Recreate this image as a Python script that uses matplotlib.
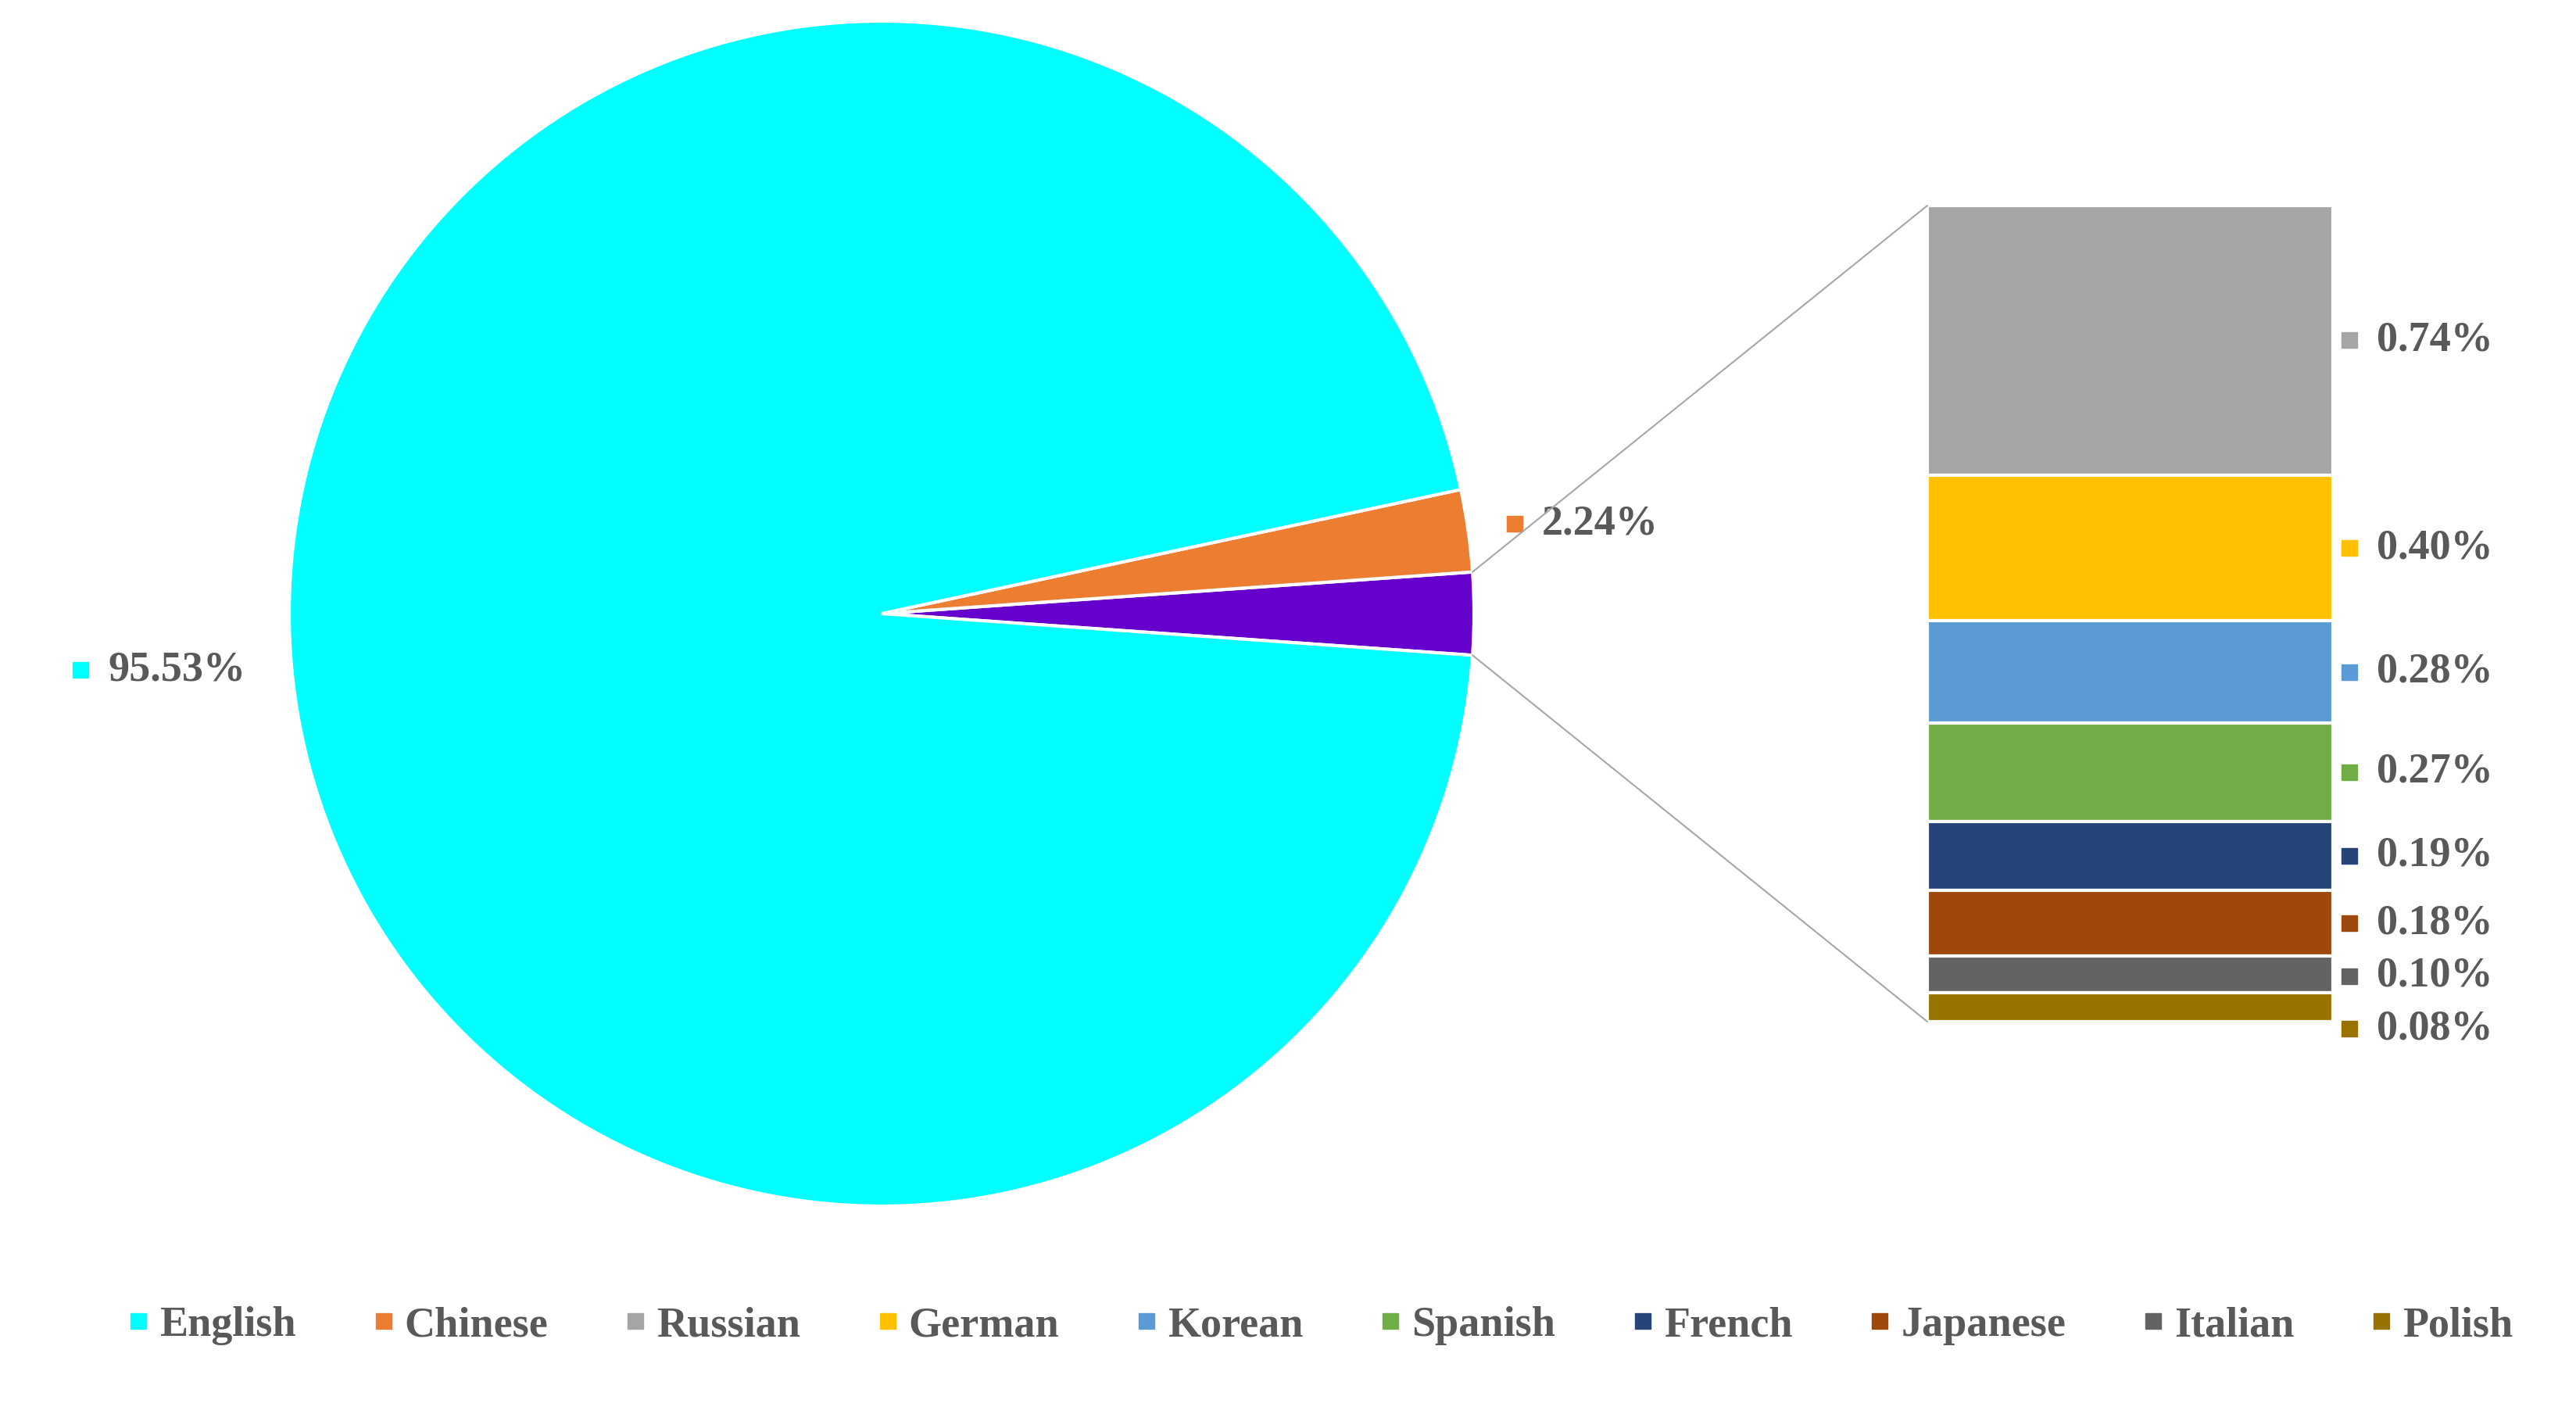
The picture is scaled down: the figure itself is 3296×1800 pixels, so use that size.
import numpy as np
import matplotlib.pyplot as plt
from matplotlib.lines import Line2D
from matplotlib.patches import ConnectionPatch

# shares in percent
english = 95.53
chinese = 2.24
bar_langs = ["Russian", "German", "Korean", "Spanish", "French", "Japanese", "Italian", "Polish"]
bar_vals = [0.74, 0.40, 0.28, 0.27, 0.19, 0.18, 0.10, 0.08]

pie_colors = ["#6600CC", "#ED7D31", "#00FFFF"]   # other, chinese, english
bar_colors = ["#A5A5A5", "#FFC000", "#5B9BD5", "#70AD47", "#264478", "#9E480E", "#636363", "#997300"]

W, H = 3296, 1800
fig = plt.figure(figsize=(W / 100, H / 100), dpi=100)

txt = "#595959"
fnt = dict(family="Liberation Serif", weight="bold", size=39, color=txt)

other = sum(bar_vals)
pie_vals = [other, chinese, english]
half = other / sum(pie_vals) * 360 / 2

# pie
cx, cy, r = 1128, 1015, 758
pad = 1.01
ax = fig.add_axes([(cx - r * pad) / W, (cy - r * pad) / H, 2 * r * pad / W, 2 * r * pad / H])
wedges, _ = ax.pie(pie_vals, colors=pie_colors, startangle=-half,
                   wedgeprops=dict(edgecolor="white", linewidth=3))
ax.set_xlim(-pad, pad)
ax.set_ylim(-pad, pad)

# labels on the pie (chinese, english)
for w, val, col, rr in [(wedges[1], chinese, pie_colors[1], 1.079),
                        (wedges[2], english, pie_colors[2], 1.355)]:
    a = np.deg2rad((w.theta1 + w.theta2) / 2)
    x, y = rr * np.cos(a), rr * np.sin(a)
    ax.plot(x, y, "s", ms=15, color=col, clip_on=False)
    ax.annotate(f"{val:.2f}%", (x, y), xytext=(25, 0), textcoords="offset points",
                va="center", ha="left", annotation_clip=False, **fnt)

# stacked bar for the small languages
bx0, bx1, by0, by1 = 2466, 2985, 263, 1307
bax = fig.add_axes([bx0 / W, (H - by1) / H, (bx1 - bx0) / W, (by1 - by0) / H])
vals = np.array(bar_vals)
bottoms = other - np.cumsum(vals)
bax.bar(np.zeros(len(vals)), vals, bottom=bottoms, width=1, color=bar_colors,
        edgecolor="white", linewidth=3)
bax.set_xlim(-0.5, 0.5)
bax.set_ylim(0, other)
bax.axis("off")

# label positions, pushed apart where they would overlap
ys = list(bottoms + vals / 2)
gap = 0.145
for i in range(1, len(ys)):
    if ys[i - 1] - ys[i] < gap:
        ys[i] = ys[i - 1] - gap
mx = 0.5 + 21 / (bx1 - bx0)
for y, v, c in zip(ys, bar_vals, bar_colors):
    bax.plot(mx, y, "s", ms=15, color=c, clip_on=False)
    bax.annotate(f"{v:.2f}%", (mx, y), xytext=(25, 0), textcoords="offset points",
                 va="center", ha="left", annotation_clip=False, **fnt)

# connector lines
for ang, yb in [(wedges[0].theta2, other), (wedges[0].theta1, 0)]:
    t = np.deg2rad(ang)
    con = ConnectionPatch(xyA=(np.cos(t), np.sin(t)), coordsA=ax.transData,
                          xyB=(-0.5, yb), coordsB=bax.transData,
                          color="#A6A6A6", lw=1.5)
    fig.add_artist(con)

# legend
names = ["English", "Chinese"] + bar_langs
cols = [pie_colors[2], pie_colors[1]] + bar_colors
handles = [Line2D([], [], ls="", marker="s", ms=15, color=c) for c in cols]
fig.legend(handles, names, loc="center", bbox_to_anchor=(0.513, 1 - 1696 / H), ncol=10,
           frameon=False, prop=dict(family="Liberation Serif", weight="bold", size=39),
           labelcolor=txt, handlelength=0.4, handletextpad=0.3, columnspacing=1.86)

fig.savefig("out.png", dpi=100)
